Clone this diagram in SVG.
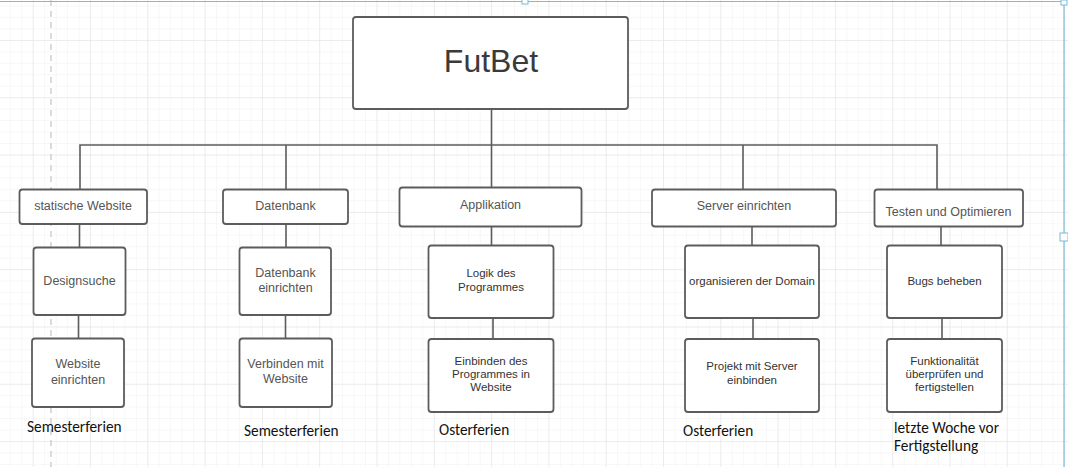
<svg xmlns="http://www.w3.org/2000/svg" width="1068" height="467" viewBox="0 0 1068 467">
<defs>
<pattern id="gmin" patternUnits="userSpaceOnUse" x="9.8" y="5.5" width="11.46" height="11.46">
<path d="M0 0H11.46M0 0V11.46" fill="none" stroke="#efefef" stroke-width="1"/>
</pattern>
<pattern id="gmaj" patternUnits="userSpaceOnUse" x="90" y="40" width="57.3" height="57.3">
<path d="M0 0H57.3M0 0V57.3" fill="none" stroke="#e2e2e2" stroke-width="1"/>
</pattern>
<style>
.box{fill:#fff;stroke:#5c5c5c;stroke-width:1.8}
.con{fill:none;stroke:#5c5c5c;stroke-width:1.6}
.t1{font-family:"Liberation Sans",Arial,sans-serif;font-size:12.5px;fill:#555;text-anchor:middle}
.t2{font-family:"Liberation Sans",Arial,sans-serif;font-size:11.5px;fill:#333;text-anchor:middle}
.lab{font-family:"Carlito","Liberation Sans",sans-serif;font-size:15.3px;fill:#111}
</style>
</defs>
<rect width="1068" height="467" fill="#fff"/>
<rect width="1068" height="467" fill="url(#gmin)"/>
<rect width="1068" height="467" fill="url(#gmaj)"/>
<line x1="51" y1="0" x2="51" y2="467" stroke="#d0d0d0" stroke-width="1.5" stroke-dasharray="6,5"/>
<line x1="0" y1="1.5" x2="1064" y2="1.5" stroke="#79bcd8" stroke-width="1.2"/>
<line x1="1064" y1="0" x2="1064" y2="467" stroke="#79bcd8" stroke-width="1.2"/>
<rect x="522" y="-2" width="6" height="6" fill="#fff" stroke="#79bcd8" stroke-width="1"/>
<rect x="1060" y="233" width="8" height="8" fill="#fff" stroke="#79bcd8" stroke-width="1"/>
<rect x="1061" y="0" width="6" height="5" fill="#fff" stroke="#79bcd8" stroke-width="1"/>

<g id="connectors">
<path class="con" d="M491.5 109V187M80 189V145H937V189M286 145V189M743 145V189"/>
<path class="con" d="M79.5 224V247M286 224V247M491.5 227V245M752 227V245M941 227V245"/>
<path class="con" d="M78.5 315V338M285.5 315V338M493 318V339M753 318V339M942 318V339"/>
</g>

<g id="futbet">
<rect class="box" x="353" y="17" width="275" height="92" rx="3"/>
<text x="491" y="72" font-family="Liberation Sans,Arial,sans-serif" font-size="32" fill="#3a3a3a" text-anchor="middle">FutBet</text>
</g>

<g id="statische-website">
<rect class="box" x="19.5" y="189.5" width="127.5" height="34.5" rx="3"/>
<text class="t1" x="83" y="209.5">statische Website</text>
</g>
<g id="datenbank">
<rect class="box" x="223" y="189.5" width="125" height="34.5" rx="3"/>
<text class="t1" x="285.5" y="209.5">Datenbank</text>
</g>
<g id="applikation">
<rect class="box" x="399.5" y="187.5" width="182" height="39" rx="3"/>
<text class="t1" x="490.5" y="208.5">Applikation</text>
</g>
<g id="server">
<rect class="box" x="652" y="189.5" width="184" height="37" rx="3"/>
<text class="t1" x="744" y="209.5">Server einrichten</text>
</g>
<g id="testen">
<rect class="box" x="874.5" y="189.5" width="148.5" height="37" rx="3"/>
<text class="t1" x="948.5" y="215.5">Testen und Optimieren</text>
</g>

<g id="designsuche">
<rect class="box" x="33.5" y="247.5" width="92" height="67.5" rx="3"/>
<text class="t1" x="79.5" y="284.5">Designsuche</text>
</g>
<g id="datenbank-einrichten">
<rect class="box" x="239.5" y="247.5" width="91.5" height="67.5" rx="3"/>
<text class="t1" x="285.5" y="276.5">Datenbank</text>
<text class="t1" x="285.5" y="291.5">einrichten</text>
</g>
<g id="logik">
<rect class="box" x="428.5" y="245.5" width="125" height="72.5" rx="3"/>
<text class="t2" x="491" y="277">Logik des</text>
<text class="t2" x="491" y="291">Programmes</text>
</g>
<g id="domain">
<rect class="box" x="685" y="245.5" width="134" height="72.5" rx="3"/>
<text class="t2" x="752" y="285">organisieren der Domain</text>
</g>
<g id="bugs">
<rect class="box" x="887" y="245.5" width="115" height="72.5" rx="3"/>
<text class="t2" x="944.5" y="285">Bugs beheben</text>
</g>

<g id="website-einrichten">
<rect class="box" x="32" y="338.5" width="92" height="68.5" rx="3"/>
<text class="t1" x="78" y="367.5">Website</text>
<text class="t1" x="78" y="383.5">einrichten</text>
</g>
<g id="verbinden">
<rect class="box" x="239.5" y="338.5" width="92.5" height="68.5" rx="3"/>
<text class="t1" x="285.5" y="367.5">Verbinden mit</text>
<text class="t1" x="285.5" y="382.5">Website</text>
</g>
<g id="einbinden">
<rect class="box" x="428.5" y="339" width="125" height="73" rx="3"/>
<text class="t2" x="491" y="365">Einbinden des</text>
<text class="t2" x="491" y="378">Programmes in</text>
<text class="t2" x="491" y="391">Website</text>
</g>
<g id="projekt">
<rect class="box" x="685" y="339" width="134" height="73" rx="3"/>
<text class="t2" x="752" y="370">Projekt mit Server</text>
<text class="t2" x="752" y="384">einbinden</text>
</g>
<g id="funktionalitaet">
<rect class="box" x="887" y="339" width="115" height="73" rx="3"/>
<text class="t2" x="944.5" y="365">Funktionalität</text>
<text class="t2" x="944.5" y="378">überprüfen und</text>
<text class="t2" x="944.5" y="391">fertigstellen</text>
</g>

<g id="labels">
<text class="lab" x="27" y="432">Semesterferien</text>
<text class="lab" x="244" y="436">Semesterferien</text>
<text class="lab" x="439" y="435">Osterferien</text>
<text class="lab" x="683" y="436">Osterferien</text>
<text class="lab" x="894" y="433">letzte Woche vor</text>
<text class="lab" x="894" y="451">Fertigstellung</text>
</g>
</svg>
